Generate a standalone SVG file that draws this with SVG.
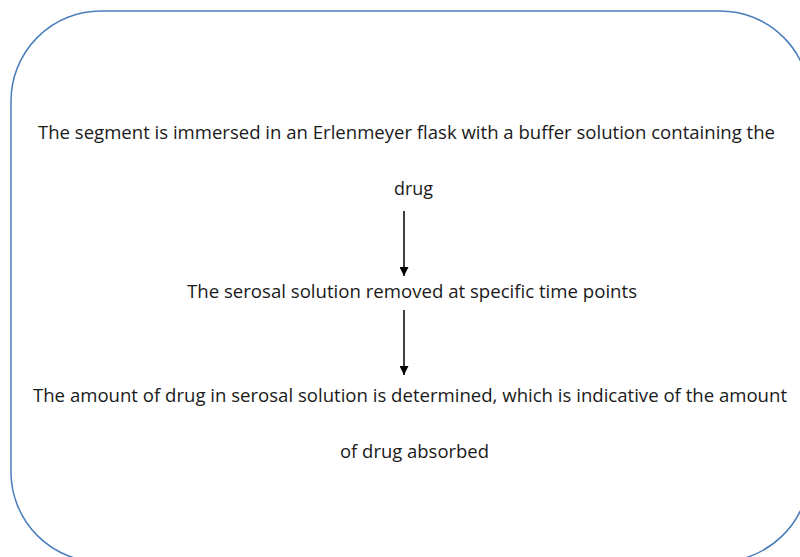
<svg xmlns="http://www.w3.org/2000/svg" width="800" height="557" viewBox="0 0 800 557">
  <defs>
    <style>
      .lbl { font-family: "Open Sans", "Liberation Sans", Arial, sans-serif; font-size: 18.5px; fill: #1a1a1a; }
      .frame { fill: none; stroke: #4a7ebb; stroke-width: 1.5; }
      .arrow { stroke: #000; stroke-width: 1.5; fill: none; }
    </style>
    <marker id="head" viewBox="0 0 10 10" refX="10" refY="5" markerWidth="10" markerHeight="9" markerUnits="userSpaceOnUse" orient="auto">
      <path d="M0,0 L10,5 L0,10 Z" fill="#000"/>
    </marker>
  </defs>

  <rect width="800" height="557" fill="#fff"/>

  <!-- rounded outer frame, running past the page edges -->
  <g id="frame">
    <path class="frame" d="M101,11 H720 A90,90 0 0 1 810,101 V470 A92,92 0 0 1 715,562 H101 A90,90 0 0 1 11,472 V101 A90,90 0 0 1 101,11 Z"/>
  </g>

  <g id="step1">
    <text class="lbl" x="38" y="139" textLength="737" lengthAdjust="spacingAndGlyphs">The segment is immersed in an Erlenmeyer flask with a buffer solution containing the</text>
    <text class="lbl" x="394" y="195" textLength="39" lengthAdjust="spacingAndGlyphs">drug</text>
  </g>

  <g id="step2">
    <text class="lbl" x="187" y="298" textLength="450" lengthAdjust="spacingAndGlyphs">The serosal solution removed at specific time points</text>
  </g>

  <g id="step3">
    <text class="lbl" x="33" y="402" textLength="754" lengthAdjust="spacingAndGlyphs">The amount of drug in serosal solution is determined, which is indicative of the amount</text>
    <text class="lbl" x="340" y="458" textLength="149" lengthAdjust="spacingAndGlyphs">of drug absorbed</text>
  </g>

  <g id="connectors">
    <line class="arrow" x1="404" y1="211" x2="404" y2="276" marker-end="url(#head)"/>
    <line class="arrow" x1="404" y1="310" x2="404" y2="375" marker-end="url(#head)"/>
  </g>
</svg>
